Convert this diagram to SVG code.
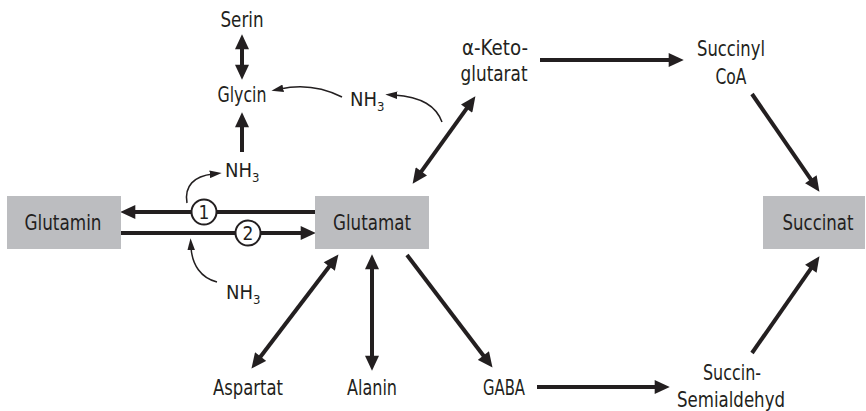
<svg xmlns="http://www.w3.org/2000/svg" width="866" height="411" viewBox="0 0 866 411">
<style>
text{font-family:"DejaVu Sans Condensed","DejaVu Sans",sans-serif;font-size:22px;fill:#231f20;text-anchor:middle}
.nh{font-size:20px;text-anchor:start}
.sub{font-size:13px;baseline-shift:-5px}
.box{fill:#bcbdc0}
.thick{stroke:#231f20;stroke-width:4;fill:none}
.thin{stroke:#231f20;stroke-width:1.5;fill:none}
.circ{fill:#fff;stroke:#231f20;stroke-width:2}
</style>
<defs>
<marker id="ah" markerUnits="userSpaceOnUse" markerWidth="16" markerHeight="14" refX="4" refY="6.5" orient="auto-start-reverse" viewBox="0 0 14 13">
<path d="M0,0 L14,6.5 L0,13 z" fill="#231f20"/>
</marker>
<marker id="ahs" markerUnits="userSpaceOnUse" markerWidth="12" markerHeight="8" refX="3" refY="3.5" orient="auto" viewBox="0 0 11 7">
<path d="M0,0 L11,3.5 L0,7 z" fill="#231f20"/>
</marker>
</defs>
<g id="connectors">
<line class="thick" x1="315" y1="212" x2="131" y2="212" marker-end="url(#ah)"/>
<line class="thick" x1="121" y1="233" x2="305" y2="233" marker-end="url(#ah)"/>
<line class="thick" x1="242" y1="45" x2="242" y2="69" marker-start="url(#ah)" marker-end="url(#ah)"/>
<line class="thick" x1="242" y1="152" x2="242" y2="123" marker-end="url(#ah)"/>
<line class="thick" x1="418.9" y1="174.9" x2="469.1" y2="105.1" marker-start="url(#ah)" marker-end="url(#ah)"/>
<line class="thick" x1="540" y1="60" x2="673" y2="60" marker-end="url(#ah)"/>
<line class="thick" x1="752" y1="94" x2="813.3" y2="182.8" marker-end="url(#ah)"/>
<line class="thick" x1="752" y1="353" x2="813.3" y2="265.2" marker-end="url(#ah)"/>
<line class="thick" x1="537" y1="387" x2="659" y2="387" marker-end="url(#ah)"/>
<line class="thick" x1="407" y1="255" x2="486" y2="359" marker-end="url(#ah)"/>
<line class="thick" x1="331.9" y1="263" x2="258" y2="360" marker-start="url(#ah)" marker-end="url(#ah)"/>
<line class="thick" x1="372" y1="265" x2="372" y2="360" marker-start="url(#ah)" marker-end="url(#ah)"/>
<path class="thin" d="M342,97 Q312,82 280,89" marker-end="url(#ahs)"/>
<path class="thin" d="M442,122 C436,106 422,97 394,95" marker-end="url(#ahs)"/>
<path class="thin" d="M187,203 C184,186 194,176 213,174" marker-end="url(#ahs)"/>
<path class="thin" d="M217,282 C201,278 192,265 191,247" marker-end="url(#ahs)"/>
<circle class="circ" cx="204" cy="212" r="12.5"/>
<text x="204" y="219" style="font-size:19px">1</text>
<circle class="circ" cx="248" cy="233" r="12.5"/>
<text x="248" y="240" style="font-size:19px">2</text>
</g>
<g id="glutamin"><rect class="box" x="7" y="196" width="114" height="53"/><text x="63" y="230" textLength="77" lengthAdjust="spacingAndGlyphs">Glutamin</text></g>
<g id="glutamat"><rect class="box" x="315" y="196" width="114" height="53"/><text x="372" y="230" textLength="78" lengthAdjust="spacingAndGlyphs">Glutamat</text></g>
<g id="succinat"><rect class="box" x="763" y="196" width="102" height="53"/><text x="818" y="230" textLength="71" lengthAdjust="spacingAndGlyphs">Succinat</text></g>
<g id="serin"><text x="242" y="27" textLength="43" lengthAdjust="spacingAndGlyphs">Serin</text></g>
<g id="glycin"><text x="242" y="102" textLength="49" lengthAdjust="spacingAndGlyphs">Glycin</text></g>
<g id="nh3-a"><text class="nh" x="225" y="177">NH<tspan class="sub">3</tspan></text></g>
<g id="nh3-b"><text class="nh" x="350" y="106">NH<tspan class="sub">3</tspan></text></g>
<g id="nh3-c"><text class="nh" x="226" y="299">NH<tspan class="sub">3</tspan></text></g>
<g id="ketoglutarat"><text x="495" y="55" textLength="66" lengthAdjust="spacingAndGlyphs">α-Keto-</text><text x="494" y="81" textLength="67" lengthAdjust="spacingAndGlyphs">glutarat</text></g>
<g id="succinylcoa"><text x="731" y="56" textLength="68" lengthAdjust="spacingAndGlyphs">Succinyl</text><text x="731" y="84" textLength="31" lengthAdjust="spacingAndGlyphs">CoA</text></g>
<g id="semialdehyd"><text x="732" y="380" textLength="58" lengthAdjust="spacingAndGlyphs">Succin-</text><text x="731" y="407" textLength="108" lengthAdjust="spacingAndGlyphs">Semialdehyd</text></g>
<g id="gaba"><text x="504" y="395" textLength="42" lengthAdjust="spacingAndGlyphs">GABA</text></g>
<g id="aspartat"><text x="248" y="395" textLength="70" lengthAdjust="spacingAndGlyphs">Aspartat</text></g>
<g id="alanin"><text x="372" y="395" textLength="50" lengthAdjust="spacingAndGlyphs">Alanin</text></g>
</svg>
